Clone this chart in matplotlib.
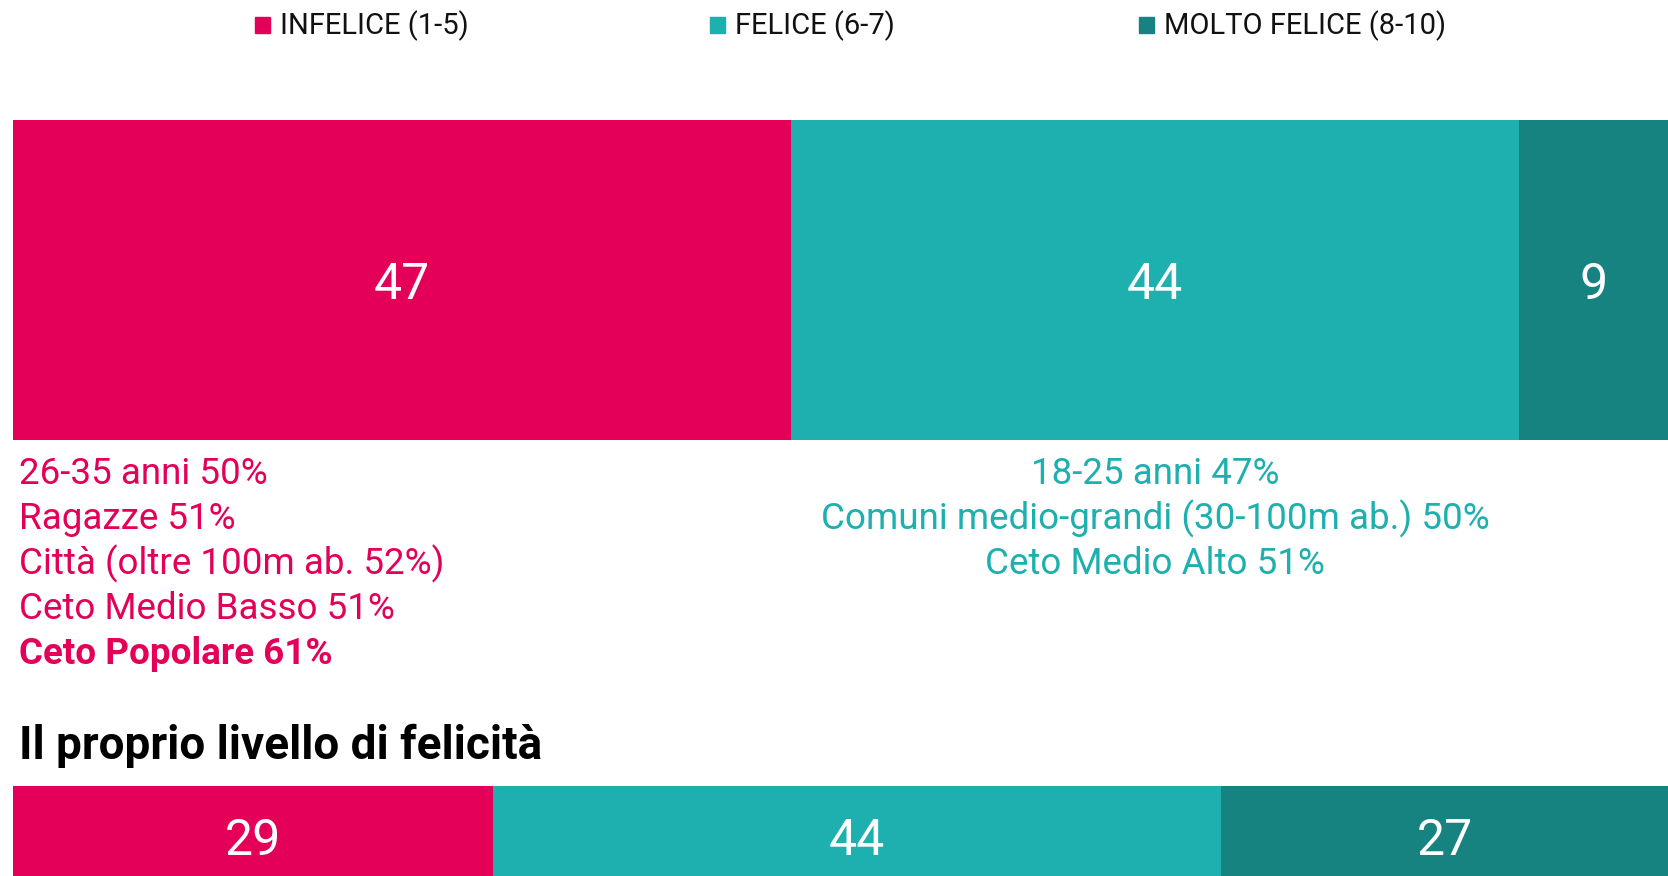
import matplotlib
matplotlib.use("Agg")
import matplotlib.pyplot as plt
import matplotlib.transforms as mtransforms
from matplotlib.patches import Rectangle

plt.rcParams["font.family"] = ["Roboto", "DejaVu Sans"]

categories = ["INFELICE (1-5)", "FELICE (6-7)", "MOLTO FELICE (8-10)"]
colors = ["#E40058", "#1EAFAF", "#168381"]
top_values = [47, 44, 9]
bottom_values = [29, 44, 27]
bottom_title = "Il proprio livello di felicità"

unhappy_notes = [
    "26-35 anni 50%",
    "Ragazze 51%",
    "Città (oltre 100m ab. 52%)",
    "Ceto Medio Basso 51%",
    "Ceto Popolare 61%",
]
happy_notes = [
    "18-25 anni 47%",
    "Comuni medio-grandi (30-100m ab.) 50%",
    "Ceto Medio Alto 51%",
]

W, H = 1668, 876
fig = plt.figure(figsize=(W / 100, H / 100), dpi=100)

# overlay in pixel coords for text
over = fig.add_axes([0, 0, 1, 1])
over.set_xlim(0, W)
over.set_ylim(H, 0)
over.axis("off")


def stacked_bar(rect, values):
    ax = fig.add_axes(rect)
    left = 0
    for v, c in zip(values, colors):
        bars = ax.barh(0, v, left=left, height=1, color=c)
        labels = ax.bar_label(bars, labels=[str(v)], label_type="center",
                              color="white", fontsize=36)
        for lab in labels:
            lab.set_va("center_baseline")
        left += v
    ax.set_xlim(0, 100)
    ax.set_ylim(-0.5, 0.5)
    ax.axis("off")
    return ax


ax_top = stacked_bar([13 / W, (H - 440) / H, 1655 / W, 320 / H], top_values)
ax_bot = stacked_bar([13 / W, -10 / H, 1655 / W, 100 / H], bottom_values)

# legend
for x_sq, label, c in zip([255, 710, 1139], categories, colors):
    over.add_patch(Rectangle((x_sq, 17), 15, 16, color=c))
    over.text(x_sq + 25, 26, label, fontsize=21, va="center", ha="left",
              color="#111111")

# notes under the bar
line_y = [474, 519, 564, 609, 654]
for i, (y, t) in enumerate(zip(line_y, unhappy_notes)):
    bold = i == len(unhappy_notes) - 1
    over.text(19, y, t, fontsize=26.5, color=colors[0], va="center",
              ha="left", fontweight="bold" if bold else "normal")

trans = mtransforms.blended_transform_factory(ax_top.transData, over.transData)
mid = top_values[0] + top_values[1] / 2
for y, t in zip(line_y, happy_notes):
    over.text(mid, y, t, fontsize=26.5, color=colors[1], va="center",
              ha="center", transform=trans)

over.text(19, 746, bottom_title, fontsize=33, fontweight="bold",
          color="black", va="center", ha="left")

fig.savefig("out.png", dpi=100)
